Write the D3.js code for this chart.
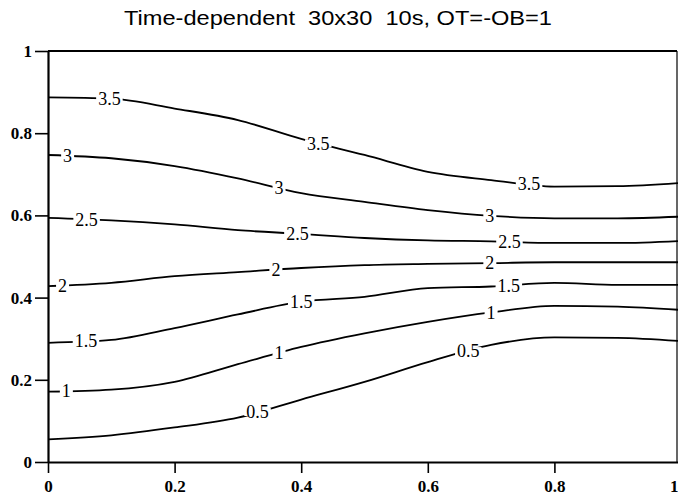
<!DOCTYPE html>
<html>
<head>
<meta charset="utf-8">
<script src="https://cdn.jsdelivr.net/npm/d3@7"></script>
<style>
  html, body { margin: 0; padding: 0; background: #fff; }
  #chart { width: 678px; height: 499px; }
</style>
</head>
<body>
<div id="chart"></div>
<script>
// sample positions along x where the contour heights were read
const xSamples = [0, 0.1, 0.2, 0.3, 0.4, 0.5, 0.6, 0.7, 0.8, 0.9, 1.0];

// contour levels and their y position at each sample
const levels = [0.5, 1, 1.5, 2, 2.5, 3, 3.5];
const contour05 = [0.055, 0.065, 0.084, 0.108, 0.152, 0.195, 0.243, 0.285, 0.303, 0.302, 0.294];
const contour10 = [0.171, 0.176, 0.195, 0.238, 0.280, 0.313, 0.341, 0.364, 0.380, 0.378, 0.370];
const contour15 = [0.290, 0.297, 0.326, 0.359, 0.390, 0.402, 0.423, 0.427, 0.436, 0.431, 0.431];
const contour20 = [0.428, 0.436, 0.452, 0.462, 0.472, 0.479, 0.482, 0.484, 0.486, 0.486, 0.486];
const contour25 = [0.594, 0.588, 0.578, 0.564, 0.555, 0.545, 0.539, 0.537, 0.533, 0.533, 0.538];
const contour30 = [0.747, 0.739, 0.720, 0.690, 0.654, 0.633, 0.613, 0.599, 0.593, 0.593, 0.597];
const contour35 = [0.887, 0.884, 0.860, 0.832, 0.786, 0.747, 0.706, 0.686, 0.670, 0.671, 0.679];

// x positions of the inline labels on each contour
const labels05 = [0.331, 0.664];
const labels10 = [0.029, 0.365, 0.700];
const labels15 = [0.060, 0.400, 0.728];
const labels20 = [0.023, 0.360, 0.698];
const labels25 = [0.061, 0.394, 0.729];
const labels30 = [0.031, 0.365, 0.698];
const labels35 = [0.097, 0.427, 0.760];

const xTicks = [0, 0.2, 0.4, 0.6, 0.8, 1];
const yTicks = [0, 0.2, 0.4, 0.6, 0.8, 1];
const title = 'Time-dependent  30x30  10s, OT=-OB=1';

const contours = [
  { level: levels[0], ys: contour05, labelsAt: labels05 },
  { level: levels[1], ys: contour10, labelsAt: labels10 },
  { level: levels[2], ys: contour15, labelsAt: labels15 },
  { level: levels[3], ys: contour20, labelsAt: labels20 },
  { level: levels[4], ys: contour25, labelsAt: labels25 },
  { level: levels[5], ys: contour30, labelsAt: labels30 },
  { level: levels[6], ys: contour35, labelsAt: labels35 },
];

const svg = d3
  .select('#chart')
  .append('svg')
  .attr('width', 678)
  .attr('height', 499);

const x = d3.scaleLinear().domain([0, 1]).range([48, 681]);
const y = d3.scaleLinear().domain([0, 1]).range([462, 51]);

const tickFormat = (d) => (d === 0 || d === 1 ? String(d) : d3.format('.1f')(d));

// Title (condensed face, squeezed to the reference width)
svg
  .append('text')
  .attr('x', 338)
  .attr('y', 25)
  .attr('text-anchor', 'middle')
  .attr('textLength', 428)
  .attr('lengthAdjust', 'spacingAndGlyphs')
  .style('font-family', '"Liberation Sans Narrow", "Liberation Sans", Arial, sans-serif')
  .style('font-size', '21px')
  .style('white-space', 'pre')
  .text(title);

// Contour lines
const line = d3
  .line()
  .x((d) => x(d[0]))
  .y((d) => y(d[1]))
  .curve(d3.curveMonotoneX);

const lineGroup = svg.append('g');
contours.forEach((c) => {
  lineGroup
    .append('path')
    .datum(xSamples.map((xv, i) => [xv, c.ys[i]]))
    .attr('fill', 'none')
    .attr('stroke', '#000')
    .attr('stroke-width', 1.8)
    .attr('d', line);
});

// Inline labels, with a white patch to break the line
const labelGroup = svg.append('g');
contours.forEach((c) => {
  const yAt = d3.scaleLinear().domain(xSamples).range(c.ys);
  c.labelsAt.forEach((lx) => {
    const g = labelGroup.append('g');
    const t = g
      .append('text')
      .attr('x', x(lx))
      .attr('y', y(yAt(lx)))
      .attr('dy', '0.35em')
      .attr('text-anchor', 'middle')
      .style('font-family', '"Liberation Serif", "Times New Roman", serif')
      .style('font-size', '18px')
      .text(String(c.level));
    const bb = t.node().getBBox();
    g.insert('rect', 'text')
      .attr('x', bb.x - 2)
      .attr('y', y(yAt(lx)) - 4)
      .attr('width', bb.width + 4)
      .attr('height', 8)
      .attr('fill', '#fff');
  });
});

// Frame: top and right edges
svg
  .append('line')
  .attr('x1', x(0))
  .attr('x2', 677)
  .attr('y1', y(1))
  .attr('y2', y(1))
  .attr('stroke', '#000')
  .attr('stroke-width', 1.8);
svg
  .append('line')
  .attr('x1', 677)
  .attr('x2', 677)
  .attr('y1', y(1))
  .attr('y2', y(0))
  .attr('stroke', '#000')
  .attr('stroke-width', 1.2);

// Axes
const yAxis = svg
  .append('g')
  .attr('transform', `translate(${x(0)},0)`)
  .call(d3.axisLeft(y).tickValues(yTicks).tickFormat(tickFormat).tickSize(13).tickSizeOuter(0).tickPadding(3));

const xAxis = svg
  .append('g')
  .attr('transform', `translate(0,${y(0)})`)
  .call(d3.axisBottom(x).tickValues(xTicks).tickFormat(tickFormat).tickSize(11).tickSizeOuter(0).tickPadding(7));

[xAxis, yAxis].forEach((a) => {
  a.select('.domain').attr('stroke-width', 2.2);
  a.selectAll('.tick line').attr('stroke-width', 1.6);
  a.selectAll('text')
    .style('font-family', '"Liberation Serif", "Times New Roman", serif')
    .style('font-weight', 'bold')
    .style('font-size', '17px')
    .attr('fill', '#000');
});

// last x label sits on the window edge; keep it inside
xAxis
  .selectAll('.tick text')
  .filter((d) => d === 1)
  .attr('text-anchor', 'end')
  .attr('x', 678 - x(1));
</script>
</body>
</html>
